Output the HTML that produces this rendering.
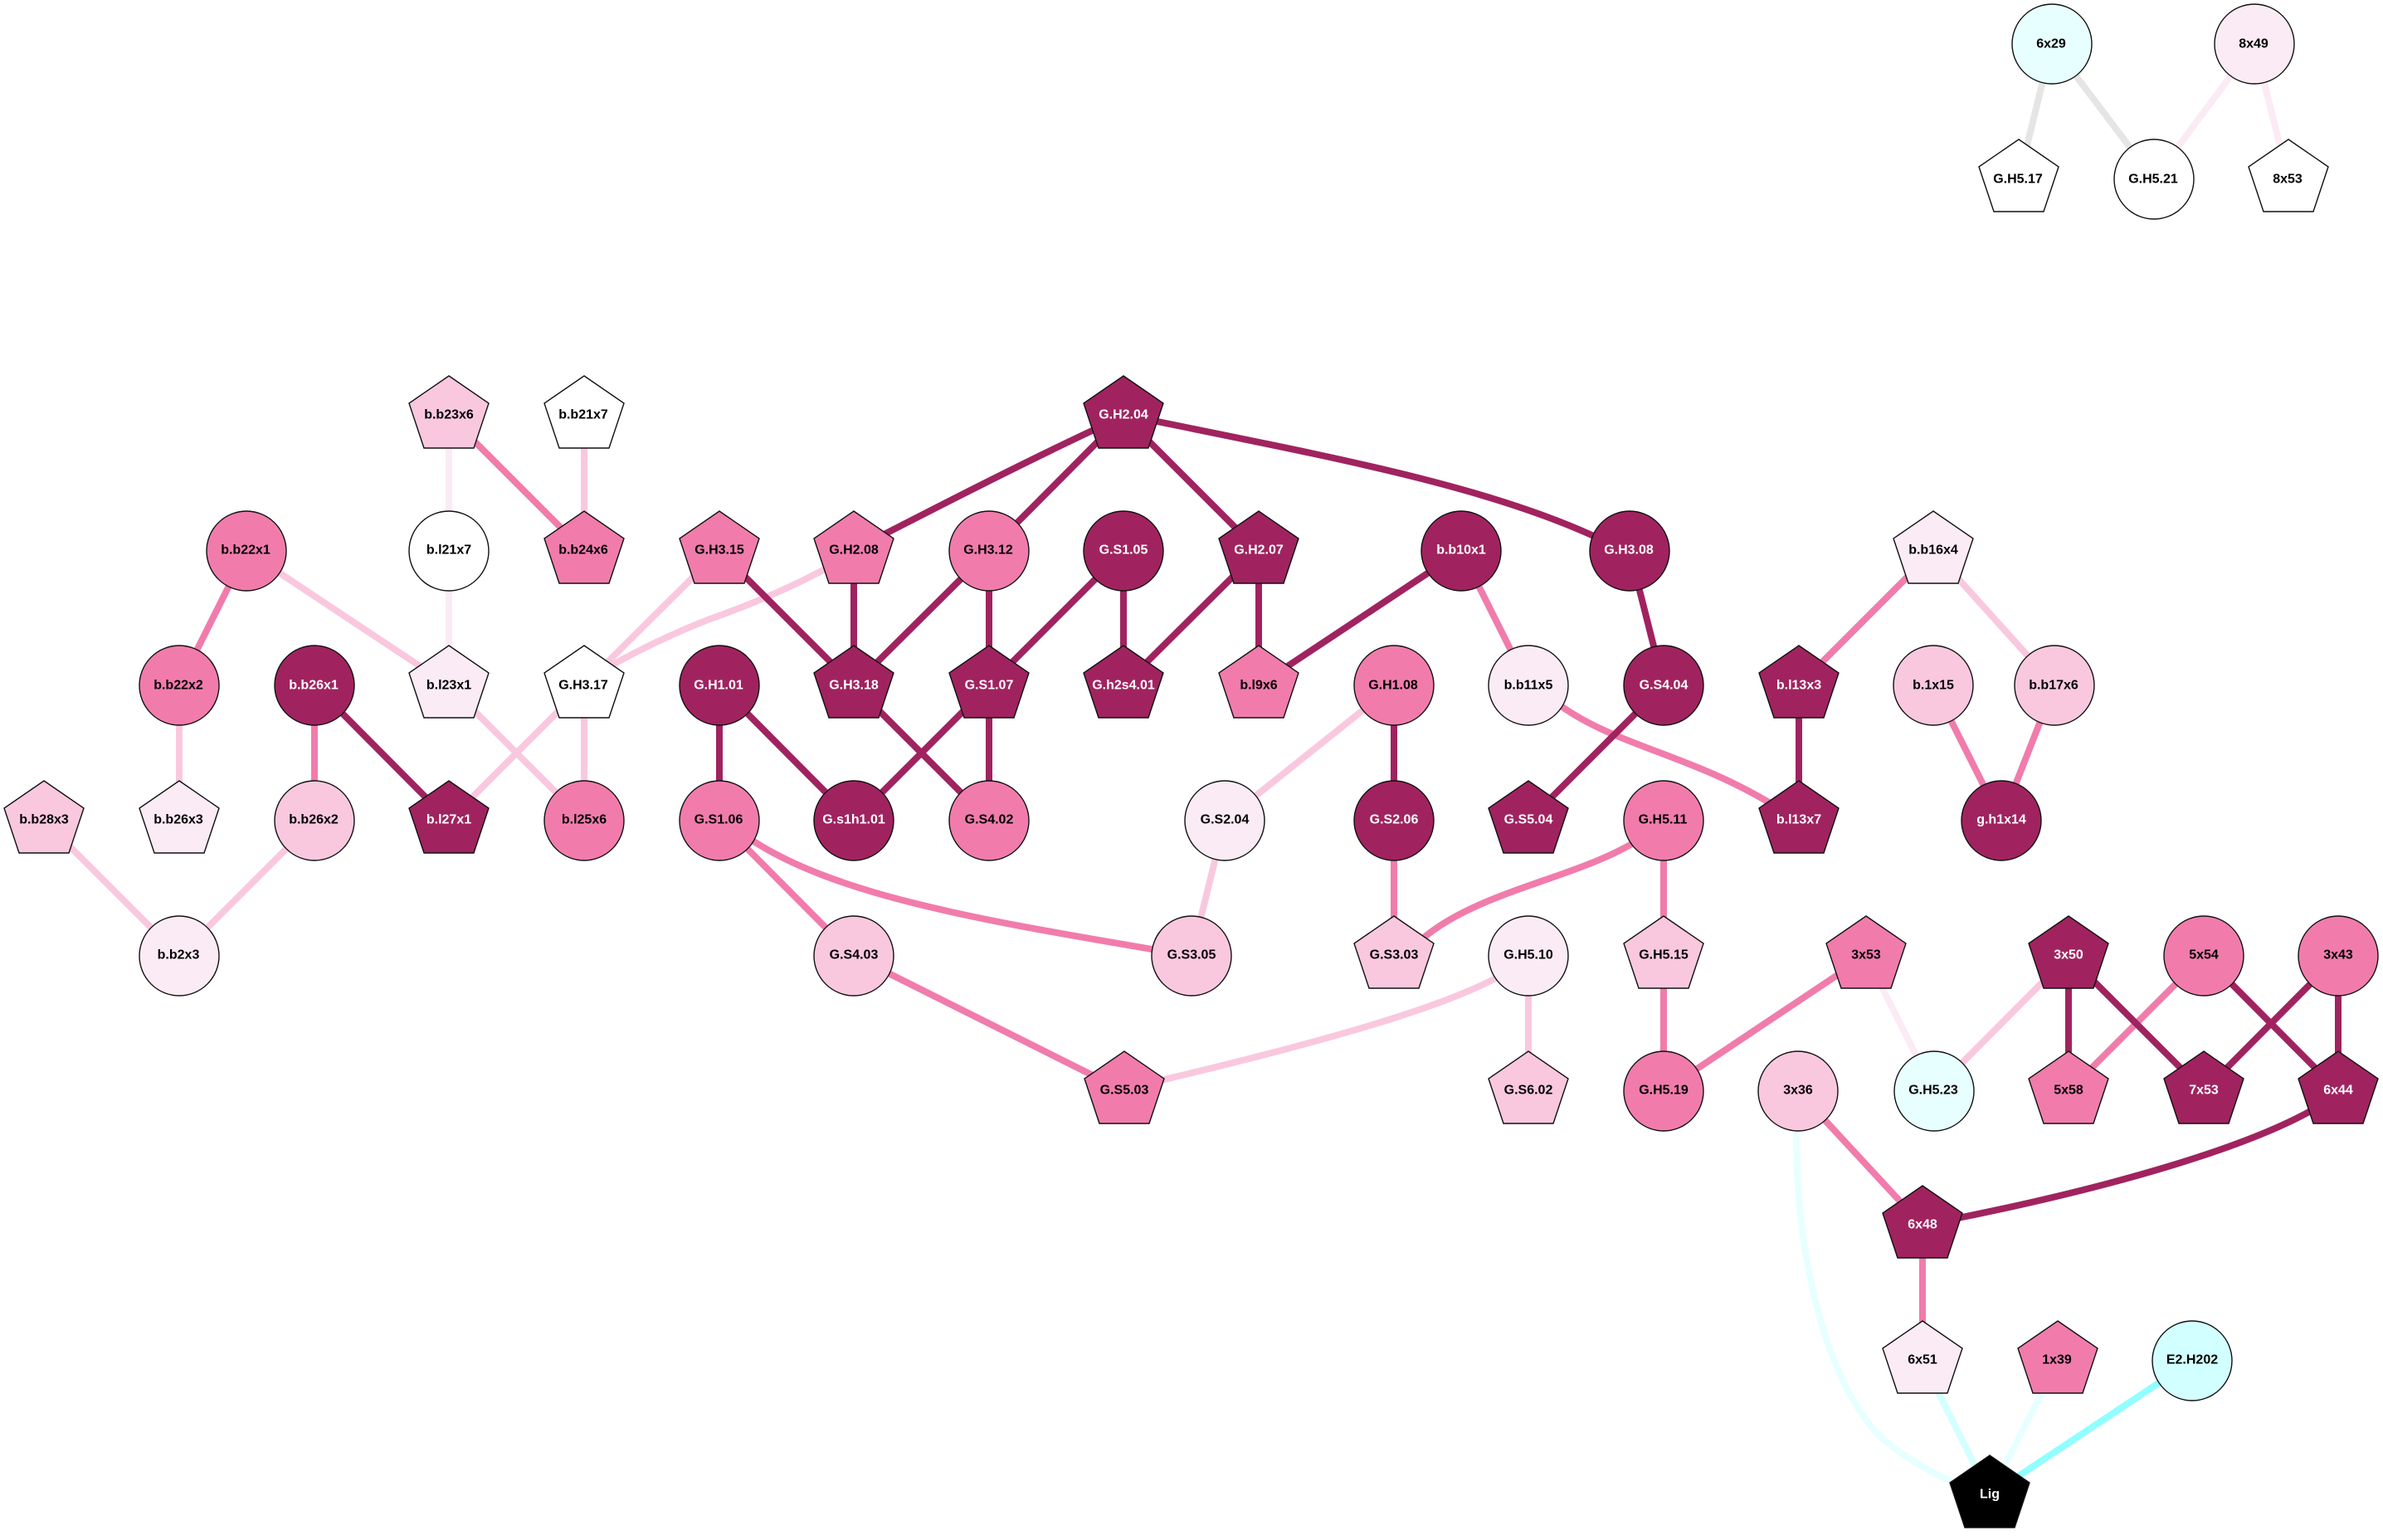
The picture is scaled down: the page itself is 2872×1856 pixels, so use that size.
<!DOCTYPE html>
<html><head><meta charset="utf-8"><title>Diagram</title>
<style>
html,body{margin:0;padding:0;background:#fff}
svg{display:block}
text{font-family:"Liberation Sans",sans-serif;font-weight:700;font-size:16px;text-anchor:middle}
.n{stroke:#111;stroke-width:1.4}
.e{fill:none;stroke-width:8}
.d{fill:#a0235f}.k{fill:#f17cac}.l{fill:#f9c8df}.a{fill:#fbebf4}.w{fill:#fff}.y{fill:#e8ffff}.z{fill:#d2ffff}
.b{fill:#000}
.t{fill:#000}.u{fill:#fff}
</style></head><body>
<svg width="2872" height="1856" viewBox="0 0 2872 1856" xmlns="http://www.w3.org/2000/svg">
<defs>
<polygon id="p" points="0,-48 48,-15 30,39 -30,39 -48,-15"/>
<circle id="c" r="48"/>
</defs>
<rect width="2872" height="1856" fill="#fff"/>
<!-- edges -->
<path class="e" stroke="#e5e5e5" d="M2473 53L2433 216M2473 53L2596 216"/>
<path class="e" stroke="#fbebf4" d="M2717 53L2596 216M2717 53L2758 216M541 501L541 664M541 664L541 826M2249 1152L2331 1315"/>
<path class="e" stroke="#f9c8df" d="M704 501L704 664M297 664L541 826M216 826L216 989M541 826L704 989M704 826L541 989M704 826L704 989M53 989L216 1152M379 989L216 1152M867 664L704 826M1680 826L1476 989M1476 989L1436 1152M1842 1152L1842 1315M2493 1152L2331 1315M2330 664L2476 826M1005 680C960 705 910 727 853 747C820 760 775 780 730 806M1815 1172C1760 1205 1640 1245 1395 1303"/>
<path class="e" stroke="#f17cac" d="M541 501L704 664M297 664L216 826M379 826L379 989M1761 664L1842 826M1680 989L1680 1152M867 989L1029 1152M1029 1152L1355 1315M2005 989L2005 1152M2005 1152L2005 1315M2249 1152L2005 1315M2656 1152L2493 1315M2167 1315L2317 1477M2317 1477L2317 1640M2330 664L2168 826M2330 826L2412 989M2476 826L2412 989M1880 850C1950 900 2040 910 2140 972M895 1005C1000 1080 1190 1110 1400 1146M1975 1012C1900 1060 1770 1075 1705 1140"/>
<path class="e" stroke="#a0235f" d="M379 826L541 989M867 664L1029 826M1029 664L1029 826M1192 664L1029 826M1192 664L1192 826M1354 664L1192 826M1354 664L1354 826M1517 664L1354 826M1517 664L1517 826M1354 501L1192 664M1354 501L1517 664M867 826L867 989M867 826L1029 989M1192 826L1029 989M1192 826L1192 989M1029 826L1192 989M1761 664L1517 826M1964 664L2005 826M2005 826L1842 989M1680 826L1680 989M2168 826L2168 989M2493 1152L2493 1315M2493 1152L2656 1315M2656 1152L2818 1315M2818 1152L2656 1315M2818 1152L2818 1315M1340 508C1270 540 1170 590 1050 652M1380 505C1600 550 1790 585 1925 648M2800 1330C2720 1380 2550 1430 2350 1470"/>
<path class="e" stroke="#e8ffff" d="M2480 1640L2398 1802M2166 1350C2160 1500 2200 1670 2270 1735C2300 1760 2330 1775 2360 1790"/>
<path class="e" stroke="#d5ffff" d="M2317 1640L2398 1802"/>
<path class="e" stroke="#8fffff" d="M2642 1640L2398 1802"/>
<!-- nodes -->
<g class="n">
<use href="#c" x="2473" y="53" class="y"/><use href="#p" x="2433" y="216" class="w"/><use href="#c" x="2596" y="216" class="w"/><use href="#c" x="2717" y="53" class="a"/><use href="#p" x="2758" y="216" class="w"/>
<use href="#p" x="541" y="501" class="l"/><use href="#p" x="704" y="501" class="w"/><use href="#p" x="1354" y="501" class="d"/>
<use href="#c" x="297" y="664" class="k"/><use href="#c" x="541" y="664" class="w"/><use href="#p" x="704" y="664" class="k"/><use href="#p" x="867" y="664" class="k"/><use href="#p" x="1029" y="664" class="k"/><use href="#c" x="1192" y="664" class="k"/><use href="#c" x="1354" y="664" class="d"/><use href="#p" x="1517" y="664" class="d"/><use href="#c" x="1761" y="664" class="d"/><use href="#c" x="1964" y="664" class="d"/><use href="#p" x="2330" y="664" class="a"/>
<use href="#c" x="216" y="826" class="k"/><use href="#c" x="379" y="826" class="d"/><use href="#p" x="541" y="826" class="a"/><use href="#p" x="704" y="826" class="w"/><use href="#c" x="867" y="826" class="d"/><use href="#p" x="1029" y="826" class="d"/><use href="#p" x="1192" y="826" class="d"/><use href="#p" x="1354" y="826" class="d"/><use href="#p" x="1517" y="826" class="k"/><use href="#c" x="1680" y="826" class="k"/><use href="#c" x="1842" y="826" class="a"/><use href="#c" x="2005" y="826" class="d"/><use href="#p" x="2168" y="826" class="d"/><use href="#c" x="2330" y="826" class="l"/><use href="#c" x="2476" y="826" class="l"/>
<use href="#p" x="53" y="989" class="l"/><use href="#p" x="216" y="989" class="a"/><use href="#c" x="379" y="989" class="l"/><use href="#p" x="541" y="989" class="d"/><use href="#c" x="704" y="989" class="k"/><use href="#c" x="867" y="989" class="k"/><use href="#c" x="1029" y="989" class="d"/><use href="#c" x="1192" y="989" class="k"/><use href="#c" x="1476" y="989" class="a"/><use href="#c" x="1680" y="989" class="d"/><use href="#p" x="1842" y="989" class="d"/><use href="#c" x="2005" y="989" class="k"/><use href="#p" x="2168" y="989" class="d"/><use href="#c" x="2412" y="989" class="d"/>
<use href="#c" x="216" y="1152" class="a"/><use href="#c" x="1029" y="1152" class="l"/><use href="#c" x="1436" y="1152" class="l"/><use href="#p" x="1680" y="1152" class="l"/><use href="#c" x="1842" y="1152" class="a"/><use href="#p" x="2005" y="1152" class="l"/><use href="#p" x="2249" y="1152" class="k"/><use href="#p" x="2493" y="1152" class="d"/><use href="#c" x="2656" y="1152" class="k"/><use href="#c" x="2818" y="1152" class="k"/>
<use href="#p" x="1355" y="1315" class="k"/><use href="#p" x="1842" y="1315" class="l"/><use href="#c" x="2005" y="1315" class="k"/><use href="#c" x="2167" y="1315" class="l"/><use href="#c" x="2331" y="1315" class="y"/><use href="#p" x="2493" y="1315" class="k"/><use href="#p" x="2656" y="1315" class="d"/><use href="#p" x="2818" y="1315" class="d"/>
<use href="#p" x="2317" y="1477" class="d"/><use href="#p" x="2317" y="1640" class="a"/><use href="#p" x="2480" y="1640" class="k"/><use href="#c" x="2642" y="1640" class="z"/>
<use href="#p" x="2398" y="1802" class="b"/>
</g>
<!-- labels -->
<g class="t" transform="translate(0,0.6)">
<text x="2472" y="57">6x29</text><text x="2432" y="220">G.H5.17</text><text x="2595" y="220">G.H5.21</text><text x="2716" y="57">8x49</text><text x="2757" y="220">8x53</text>
<text x="541" y="504">b.b23x6</text><text x="703" y="504">b.b21x7</text>
<text x="296" y="667">b.b22x1</text><text x="541" y="667">b.l21x7</text><text x="703" y="667">b.b24x6</text><text x="867" y="667">G.H3.15</text><text x="1029" y="667">G.H2.08</text><text x="1191" y="667">G.H3.12</text><text x="2330" y="667">b.b16x4</text>
<text x="215" y="830">b.b22x2</text><text x="541" y="830">b.l23x1</text><text x="703" y="830">G.H3.17</text><text x="1517" y="830">b.l9x6</text><text x="1679" y="830">G.H1.08</text><text x="1842" y="830">b.b11x5</text><text x="2330" y="830">b.1x15</text><text x="2475" y="830">b.b17x6</text>
<text x="53" y="992">b.b28x3</text><text x="215" y="992">b.b26x3</text><text x="378" y="992">b.b26x2</text><text x="704" y="992">b.l25x6</text><text x="866" y="992">G.S1.06</text><text x="1192" y="992">G.S4.02</text><text x="1476" y="992">G.S2.04</text><text x="2004" y="992">G.H5.11</text>
<text x="215" y="1155">b.b2x3</text><text x="1029" y="1155">G.S4.03</text><text x="1436" y="1155">G.S3.05</text><text x="1680" y="1155">G.S3.03</text><text x="1842" y="1155">G.H5.10</text><text x="2005" y="1155">G.H5.15</text><text x="2249" y="1155">3x53</text><text x="2656" y="1155">5x54</text><text x="2818" y="1155">3x43</text>
<text x="1355" y="1318">G.S5.03</text><text x="1842" y="1318">G.S6.02</text><text x="2005" y="1318">G.H5.19</text><text x="2167" y="1318">3x36</text><text x="2330" y="1318">G.H5.23</text><text x="2493" y="1318">5x58</text>
<text x="2317" y="1643">6x51</text><text x="2479" y="1643">1x39</text><text x="2642" y="1643">E2.H202</text>
</g>
<g class="u" transform="translate(0,0.6)">
<text x="1354" y="504">G.H2.04</text>
<text x="1354" y="667">G.S1.05</text><text x="1517" y="667">G.H2.07</text><text x="1761" y="667">b.b10x1</text><text x="1963" y="667">G.H3.08</text>
<text x="378" y="830">b.b26x1</text><text x="866" y="830">G.H1.01</text><text x="1029" y="830">G.H3.18</text><text x="1192" y="830">G.S1.07</text><text x="1354" y="830">G.h2s4.01</text><text x="2005" y="830">G.S4.04</text><text x="2168" y="830">b.l13x3</text>
<text x="541" y="992">b.l27x1</text><text x="1029" y="992">G.s1h1.01</text><text x="1680" y="992">G.S2.06</text><text x="1842" y="992">G.S5.04</text><text x="2168" y="992">b.l13x7</text><text x="2412" y="992">g.h1x14</text>
<text x="2493" y="1155">3x50</text><text x="2656" y="1318">7x53</text><text x="2818" y="1318">6x44</text>
<text x="2317" y="1480">6x48</text><text x="2398" y="1805">Lig</text>
</g>
</svg>
</body></html>
